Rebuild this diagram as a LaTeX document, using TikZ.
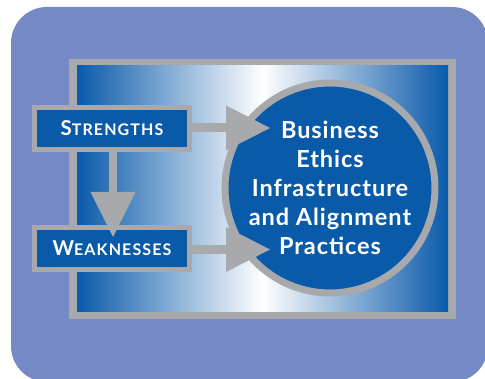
\documentclass[tikz,border=0pt]{standalone}
\usepackage{fontspec}
\setmainfont{Lato}[LetterSpace=4]
\usetikzlibrary{arrows.meta,calc}
\definecolor{mblue}{HTML}{0A5AAA}
\definecolor{mgray}{HTML}{A7A9AC}
\definecolor{bgblue}{HTML}{7589C4}
\newcommand{\bigsc}[2]{{\fontsize{20.5}{21}\selectfont #1}{\fontsize{16}{17}\selectfont #2}}
\begin{document}
\begin{tikzpicture}[x=1pt,y=-1pt,
  boxnode/.style={fill=mblue, draw=mgray, line width=5pt, minimum width=155pt,
    minimum height=42pt, inner sep=0pt, outer sep=0pt, text=white,
    font=\bfseries\addfontfeature{LetterSpace=7}},
  bignode/.style={circle, fill=mblue, draw=mgray, line width=7pt,
    minimum size=199pt, inner sep=0pt, outer sep=0pt, text=white,
    align=center, font=\bfseries\fontsize{23.5}{29}\selectfont},
  rarrow/.style={draw=mgray, line width=9pt,
    -{Triangle[length=44pt, width=45pt, line width=0pt]}},
  darrow/.style={draw=mgray, line width=8pt,
    -{Triangle[length=45pt, width=45pt, line width=0pt]}}]
\useasboundingbox (0,0) rectangle (485,379);
\begin{scope}
\clip (0,0) rectangle (485,379);
\fill[bgblue, rounded corners=36pt] (11,7) rectangle (488,382);
\end{scope}
\fill[mgray] (69,59) rectangle (456,319);
\shade[left color=mblue, right color=mblue, middle color=white] (77,66) rectangle (448,312);
\node[bignode] (c) at (330,188) {Business\\Ethics\\Infrastructure\\and Alignment\\Practices};
\node[boxnode] (s) at (112,128.5) {\bigsc{S}{TRENGTHS}};
\node[boxnode] (w) at (112,248.5) {\bigsc{W}{EAKNESSES}};
\coordinate (ts) at (270,128);
\coordinate (tw) at (270,249.5);
\draw[rarrow] (s.east |- ts) -- (ts);
\draw[rarrow] (w.east |- tw) -- (tw);
\coordinate (td) at (113,237);
\draw[darrow] (s.south -| td) -- (td);
\end{tikzpicture}
\end{document}
